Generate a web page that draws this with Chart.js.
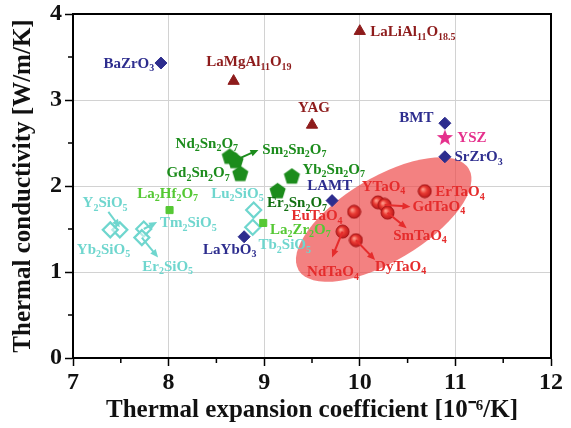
<!DOCTYPE html>
<html><head><meta charset="utf-8">
<style>html,body{margin:0;padding:0;background:#fff}</style>
<script src="https://cdn.jsdelivr.net/npm/chart.js@4/dist/chart.umd.min.js"></script>
</head><body>
<canvas id="c" width="571" height="428"></canvas>
<script>
// ---------------- data ----------------
const xTickLabels = [7, 8, 9, 10, 11, 12];
const yTickLabels = [0, 1, 2, 3, 4];

const navyNames = ['BaZrO3', 'BMT', 'SrZrO3', 'LAMT', 'LaYbO3'];
const navyX = [7.92, 10.89, 10.89, 9.71, 8.79];
const navyY = [3.43, 2.73, 2.34, 1.83, 1.41];

const aluNames = ['LaMgAl11O19', 'LaLiAl11O18.5', 'YAG'];
const aluX = [8.68, 10.00, 9.50];
const aluY = [3.22, 3.80, 2.71];

const yszNames = ['YSZ'];
const yszX = [10.89];
const yszY = [2.57];

const snNames = ['Nd2Sn2O7', 'Sm2Sn2O7', 'Gd2Sn2O7', 'Yb2Sn2O7', 'Er2Sn2O7'];
const snX = [8.64, 8.70, 8.75, 9.29, 9.14];
const snY = [2.35, 2.30, 2.15, 2.12, 1.95];

const zrNames = ['La2Hf2O7', 'La2Zr2O7'];
const zrX = [8.01, 8.99];
const zrY = [1.72, 1.57];

const siNames = ['Y2SiO5', 'Yb2SiO5', 'Tm2SiO5', 'Er2SiO5', 'Lu2SiO5', 'Tb2SiO5'];
const siX = [7.49, 7.39, 7.74, 7.72, 8.89, 8.88];
const siY = [1.49, 1.49, 1.50, 1.40, 1.72, 1.52];

const taNames = ['YTaO4', 'GdTaO4', 'SmTaO4', 'ErTaO4', 'EuTaO4', 'NdTaO4', 'DyTaO4'];
const taX = [10.19, 10.26, 10.29, 10.68, 9.94, 9.82, 9.96];
const taY = [1.81, 1.78, 1.69, 1.94, 1.70, 1.47, 1.37];

// label anchors (data coordinates) and alignment
const labelText  = ['BaZrO3','LaMgAl11O19','YAG','LaLiAl11O18.5','BMT','YSZ','SrZrO3','LAMT',
  'YTaO4','ErTaO4','GdTaO4','SmTaO4','EuTaO4','NdTaO4','DyTaO4',
  'Nd2Sn2O7','Sm2Sn2O7','Gd2Sn2O7','Yb2Sn2O7','Er2Sn2O7',
  'La2Hf2O7','Lu2SiO5','La2Zr2O7','Tb2SiO5','LaYbO3','Y2SiO5','Yb2SiO5','Tm2SiO5','Er2SiO5'];
const labelX = [7.85,8.84,9.52,10.11,10.77,11.02,10.99,9.45,
  10.02,10.79,10.55,10.63,9.82,9.72,10.16,
  8.40,8.98,8.64,9.40,9.03,
  7.99,8.72,9.06,8.94,8.64,7.10,7.04,7.91,7.99];
const labelY = [3.42,3.44,2.90,3.79,2.79,2.56,2.33,2.00,
  1.99,1.93,1.76,1.42,1.65,1.00,1.06,
  2.49,2.42,2.15,2.19,1.80,
  1.91,1.91,1.49,1.31,1.26,1.80,1.26,1.57,1.06];
const labelAlign = ['right','center','center','left','right','left','left','left',
  'left','left','left','center','right','center','left',
  'center','left','right','left','left',
  'center','center','left','left','center','left','left','left','center'];
const labelGroup = ['navy','alu','alu','alu','navy','ysz','navy','navy',
  'ta','ta','ta','ta','ta','ta','ta',
  'sn','sn','sn','sn','sn2',
  'zr','si','zr','si','navy','si','si','si','si'];

// arrows: from -> to (data coordinates)
const arrowFromX = [8.70, 10.26, 10.29, 9.82, 9.96, 7.37, 7.74, 7.72];
const arrowFromY = [2.30, 1.78, 1.69, 1.47, 1.37, 1.70, 1.50, 1.40];
const arrowToX   = [8.94, 10.53, 10.49, 9.71, 10.16, 7.49, 7.88, 7.89];
const arrowToY   = [2.42, 1.76, 1.51, 1.17, 1.14, 1.52, 1.58, 1.17];
const arrowGroup = ['sn','ta','ta','ta','ta','si','si','si'];

// highlighted ellipse: major axis ends (data)
const ellipseEndsX = [9.36, 11.14];
const ellipseEndsY = [1.02, 2.20];

// ---------------- styles ----------------
const colors = {
  navy: '#2d2d8e', alu: '#8e1c1c', ysz: '#e5308c', sn: '#1c8c1c', sn2: '#127012',
  zr: '#55c834', si: '#6fd6ce', ta: '#e52c2c'
};
const SERIF = '"Liberation Serif", "Times New Roman", serif';

function makeCanvas(w, h, fn) {
  const c = document.createElement('canvas'); c.width = w; c.height = h;
  fn(c.getContext('2d'), w, h); return c;
}
const pentagon = makeCanvas(19, 19, (g, w, h) => {
  g.beginPath();
  for (let i = 0; i < 5; i++) {
    const a = -Math.PI / 2 + i * 2 * Math.PI / 5;
    const px = w / 2 + 8.5 * Math.cos(a), py = h / 2 + 1 + 8.5 * Math.sin(a);
    i ? g.lineTo(px, py) : g.moveTo(px, py);
  }
  g.closePath(); g.fillStyle = colors.sn; g.fill();
});
const star = makeCanvas(18, 18, (g, w, h) => {
  g.beginPath();
  for (let i = 0; i < 10; i++) {
    const a = -Math.PI / 2 + i * Math.PI / 5;
    const r = i % 2 ? 3.6 : 8.5;
    const px = w / 2 + r * Math.cos(a), py = h / 2 + 1 + r * Math.sin(a);
    i ? g.lineTo(px, py) : g.moveTo(px, py);
  }
  g.closePath(); g.fillStyle = colors.ysz; g.fill();
});
const sphere = makeCanvas(15, 15, (g, w, h) => {
  const gr = g.createRadialGradient(5.5, 5.5, 0.5, 7.5, 7.5, 7);
  gr.addColorStop(0, '#ff9c8c'); gr.addColorStop(0.45, '#e83a32'); gr.addColorStop(1, '#b8141a');
  g.beginPath(); g.arc(7.5, 7.5, 6.5, 0, Math.PI * 2); g.fillStyle = gr; g.fill();
  g.lineWidth = 1; g.strokeStyle = '#a51515'; g.stroke();
});

function pts(xs, ys) { return xs.map((x, i) => ({ x, y: ys[i] })); }

const datasets = [
  { label: 'navy', data: pts(navyX, navyY), pointStyle: 'rectRot', pointRadius: 6,
    backgroundColor: colors.navy, borderColor: colors.navy, borderWidth: 1 },
  { label: 'alu', data: pts(aluX, aluY), pointStyle: 'triangle', pointRadius: 6.5,
    backgroundColor: colors.alu, borderColor: colors.alu, borderWidth: 1 },
  { label: 'ysz', data: pts(yszX, yszY), pointStyle: star, pointRadius: 8 },
  { label: 'sn', data: pts(snX, snY), pointStyle: pentagon, pointRadius: 9 },
  { label: 'zr', data: pts(zrX, zrY), pointStyle: 'rect', pointRadius: 5,
    backgroundColor: colors.zr, borderColor: colors.zr, borderWidth: 1 },
  { label: 'si', data: pts(siX, siY), pointStyle: 'rectRot', pointRadius: 7.5,
    backgroundColor: 'rgba(255,255,255,0.5)', borderColor: colors.si, borderWidth: 2.2 },
  { label: 'ta', data: pts(taX, taY), pointStyle: sphere, pointRadius: 7.5 }
];

// ---------------- plugins ----------------
function drawFormula(g, text, x, y, align, color) {
  const runs = []; const re = /(\d+(?:\.\d+)?)|([^\d]+)/g; let m;
  while ((m = re.exec(text))) runs.push({ t: m[0], sub: !!m[1] });
  const mainF = 'bold 15px ' + SERIF, subF = 'bold 10px ' + SERIF;
  let w = 0;
  runs.forEach(r => { g.font = r.sub ? subF : mainF; r.w = g.measureText(r.t).width; w += r.w; });
  let cx = align === 'left' ? x : align === 'right' ? x - w : x - w / 2;
  g.fillStyle = color; g.textBaseline = 'middle'; g.textAlign = 'left';
  runs.forEach(r => { g.font = r.sub ? subF : mainF; g.fillText(r.t, cx, r.sub ? y + 5 : y); cx += r.w; });
}

const decor = {
  id: 'decor',
  beforeDatasetsDraw(chart) {
    const g = chart.ctx, xs = chart.scales.x, ys = chart.scales.y;
    const x1 = xs.getPixelForValue(ellipseEndsX[0]), y1 = ys.getPixelForValue(ellipseEndsY[0]);
    const x2 = xs.getPixelForValue(ellipseEndsX[1]), y2 = ys.getPixelForValue(ellipseEndsY[1]);
    const cx = (x1 + x2) / 2, cy = (y1 + y2) / 2;
    const a = Math.hypot(x2 - x1, y2 - y1) / 2, ang = Math.atan2(y2 - y1, x2 - x1);
    g.save(); g.beginPath(); g.ellipse(cx, cy, a, 42, ang, 0, Math.PI * 2);
    g.fillStyle = 'rgba(238,70,70,0.68)'; g.fill(); g.restore();
  },
  afterDatasetsDraw(chart) {
    const g = chart.ctx, xs = chart.scales.x, ys = chart.scales.y;
    g.save();
    arrowFromX.forEach((fx, i) => {
      const ax = xs.getPixelForValue(fx), ay = ys.getPixelForValue(arrowFromY[i]);
      const bx = xs.getPixelForValue(arrowToX[i]), by = ys.getPixelForValue(arrowToY[i]);
      const c = colors[arrowGroup[i]];
      const an = Math.atan2(by - ay, bx - ax);
      g.strokeStyle = c; g.fillStyle = c; g.lineWidth = 2;
      g.beginPath(); g.moveTo(ax, ay); g.lineTo(bx - 5 * Math.cos(an), by - 5 * Math.sin(an)); g.stroke();
      g.beginPath(); g.moveTo(bx, by);
      g.lineTo(bx - 8 * Math.cos(an) + 3.5 * Math.sin(an), by - 8 * Math.sin(an) - 3.5 * Math.cos(an));
      g.lineTo(bx - 8 * Math.cos(an) - 3.5 * Math.sin(an), by - 8 * Math.sin(an) + 3.5 * Math.cos(an));
      g.closePath(); g.fill();
    });
    labelText.forEach((t, i) => {
      drawFormula(g, t, xs.getPixelForValue(labelX[i]), ys.getPixelForValue(labelY[i]),
        labelAlign[i], colors[labelGroup[i]]);
    });
    g.restore();
  },
  afterDraw(chart) {
    const g = chart.ctx, a = chart.chartArea, xs = chart.scales.x, ys = chart.scales.y;
    g.save();
    g.strokeStyle = '#000'; g.lineWidth = 2;
    g.strokeRect(a.left, a.top, a.right - a.left, a.bottom - a.top);
    g.lineWidth = 1.5;
    for (let v = 7.5; v < 12; v += 1) {
      const px = xs.getPixelForValue(v);
      g.beginPath(); g.moveTo(px, a.bottom); g.lineTo(px, a.bottom + 5); g.stroke();
    }
    for (let v = 0.5; v < 4; v += 1) {
      const py = ys.getPixelForValue(v);
      g.beginPath(); g.moveTo(a.left, py); g.lineTo(a.left - 5, py); g.stroke();
    }
    g.restore();
  }
};

const tickFont = { family: SERIF, size: 24, weight: 'bold' };
const titleFont = { family: SERIF, size: 25, weight: 'bold' };
function zeroPad(s) { s.paddingTop = 0; s.paddingBottom = 0; s.paddingLeft = 0; s.paddingRight = 0; }

new Chart(document.getElementById('c'), {
  type: 'scatter',
  data: { datasets },
  options: {
    responsive: false, animation: false,
    layout: { padding: { top: 14, right: 20, left: 0, bottom: 0 } },
    plugins: { legend: { display: false }, tooltip: { enabled: false } },
    scales: {
      x: {
        type: 'linear', min: 7, max: 12,
        afterBuildTicks(s) { s.ticks = xTickLabels.map(v => ({ value: v })); },
        ticks: { color: '#111', font: tickFont, padding: 2, maxRotation: 0,
          callback: v => String(v) },
        grid: { color: '#d2d2d2', lineWidth: 1, drawTicks: true, tickLength: 8, tickColor: '#000', tickWidth: 1.5 },
        border: { color: '#000', width: 2 },
        title: { display: true, text: 'Thermal expansion coefficient [10⁻⁶/K]', color: '#111',
          font: titleFont, padding: { top: 0, bottom: 2 } },
        afterFit(s) { s.height = 70; zeroPad(s); }
      },
      y: {
        type: 'linear', min: 0, max: 4,
        afterBuildTicks(s) { s.ticks = yTickLabels.map(v => ({ value: v })); },
        ticks: { color: '#111', font: tickFont, padding: 3, callback: v => String(v) },
        grid: { color: '#d2d2d2', lineWidth: 1, drawTicks: true, tickLength: 8, tickColor: '#000', tickWidth: 1.5 },
        border: { color: '#000', width: 2 },
        title: { display: true, text: 'Thermal conductivity [W/m/K]', color: '#111',
          font: titleFont, padding: { top: 9, bottom: 0 } },
        afterFit(s) { s.width = 73; zeroPad(s); }
      }
    }
  },
  plugins: [decor]
});
</script>
</body></html>
